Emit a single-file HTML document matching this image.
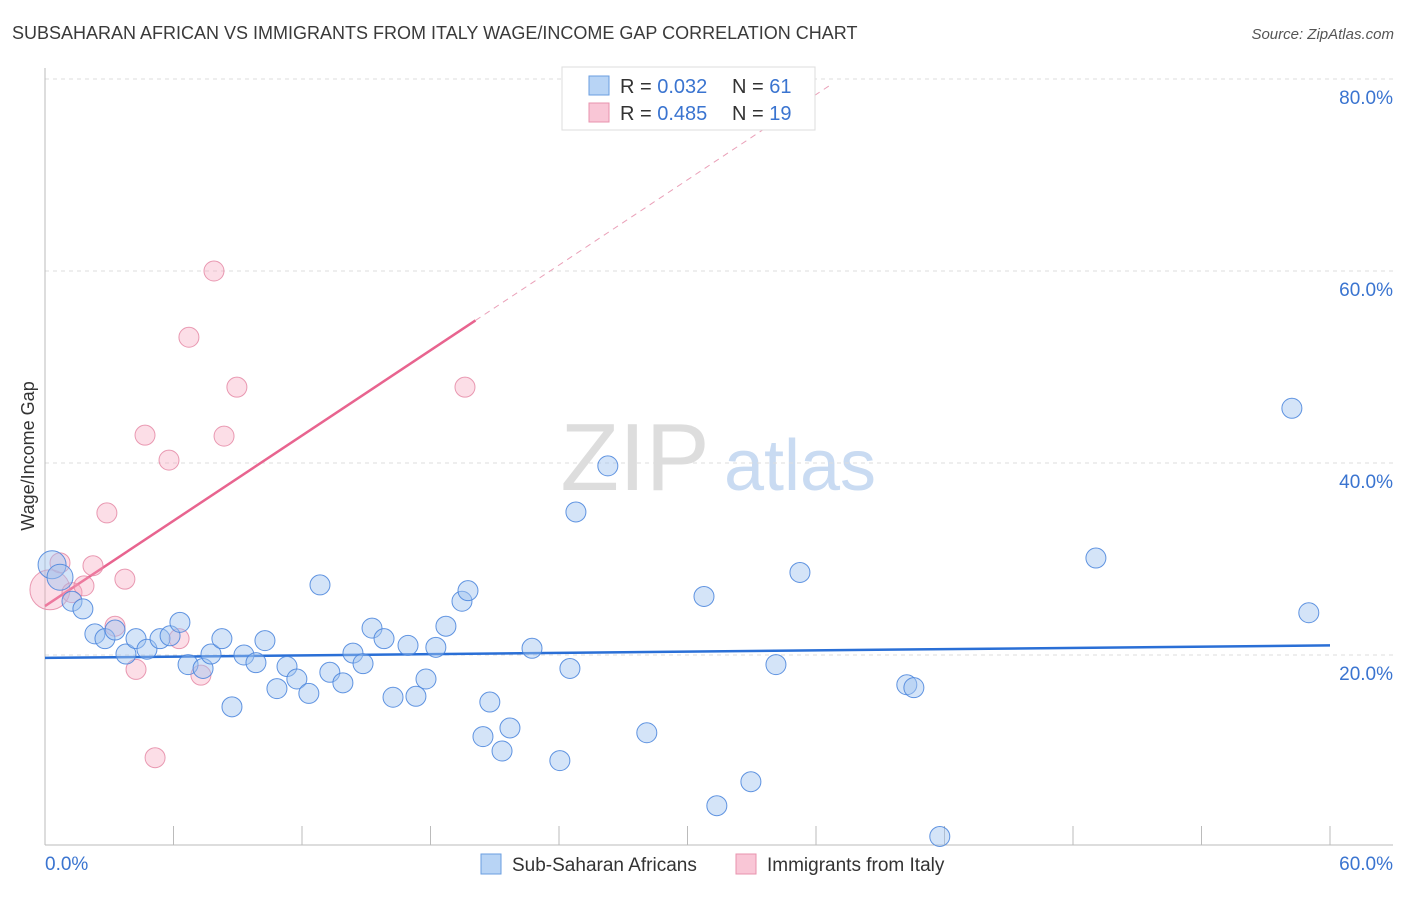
<!DOCTYPE html>
<html><head><meta charset="utf-8"><style>
body{margin:0;background:#fff;font-family:"Liberation Sans",sans-serif}
svg text{font-family:"Liberation Sans",sans-serif}
</style></head><body>
<svg id="chart" width="1406" height="892" xmlns="http://www.w3.org/2000/svg">
<text x="12" y="39" font-size="18" fill="#3a3a3a">SUBSAHARAN AFRICAN VS IMMIGRANTS FROM ITALY WAGE/INCOME GAP CORRELATION CHART</text>
<text x="1394" y="39" font-size="15" fill="#555" font-style="italic" text-anchor="end">Source: ZipAtlas.com</text>
<text x="34" y="456" font-size="18" fill="#333" transform="rotate(-90 34 456)" text-anchor="middle">Wage/Income Gap</text>
<g><text x="635" y="490" font-size="96" fill="#ddd" font-family="Liberation Serif" text-anchor="middle">ZIP</text><text x="800" y="490" font-size="72" fill="#c9dbf2" text-anchor="middle">atlas</text></g>
<g id="grid"></g><g id="axes"></g><g id="lines"></g><g id="points"></g>
<g>
<rect x="562" y="67" width="253" height="63" fill="#fff" stroke="#ddd"/>
<rect x="589" y="76" width="20" height="19" fill="#b8d4f5" stroke="#6a9ee0"/>
<rect x="589" y="103" width="20" height="19" fill="#f9c6d6" stroke="#e893ae"/>
<text x="620" y="93" font-size="20" fill="#333">R = <tspan fill="#3a74d0">0.032</tspan></text>
<text x="732" y="93" font-size="20" fill="#333">N = <tspan fill="#3a74d0">61</tspan></text>
<text x="620" y="120" font-size="20" fill="#333">R = <tspan fill="#3a74d0">0.485</tspan></text>
<text x="732" y="120" font-size="20" fill="#333">N = <tspan fill="#3a74d0">19</tspan></text>
</g>
<g>
<rect x="481" y="854" width="20" height="20" fill="#b8d4f5" stroke="#6a9ee0"/>
<text x="512" y="871" font-size="19" fill="#333">Sub-Saharan Africans</text>
<rect x="736" y="854" width="20" height="20" fill="#f9c6d6" stroke="#e893ae"/>
<text x="767" y="871" font-size="19" fill="#333">Immigrants from Italy</text>
</g>
</svg>
<script>
const xTickLabels=["0.0%","60.0%"];
const yTicks=[20,40,60,80];
const yTickLabels=["20.0%","40.0%","60.0%","80.0%"];
const blueX=[0.33,0.7,1.26,1.77,2.33,2.8,3.27,3.78,4.25,4.76,5.37,5.84,6.3,6.68,7.38,7.75,8.26,8.73,9.29,9.85,10.27,10.83,11.3,11.76,12.32,12.84,13.3,13.91,14.38,14.85,15.27,15.83,16.25,16.95,17.32,17.79,18.25,18.72,19.47,19.75,20.45,20.77,21.34,21.71,22.74,24.04,24.51,24.79,26.28,28.1,30.77,31.37,32.96,34.13,35.25,40.24,40.57,41.78,49.07,58.22,59.01];
const blueY=[29.4,28.1,25.6,24.8,22.2,21.7,22.6,20.1,21.7,20.6,21.7,22.0,23.4,19.0,18.6,20.1,21.7,14.6,20.0,19.2,21.5,16.5,18.8,17.5,16.0,27.3,18.2,17.1,20.2,19.1,22.8,21.7,15.6,21.0,15.7,17.5,20.8,23.0,25.6,26.7,11.5,15.1,10.0,12.4,20.7,9.0,18.6,34.9,39.7,11.9,26.1,4.3,6.8,19.0,28.6,16.9,16.6,1.1,30.1,45.7,24.4];
const blueR=[14,13,10,10,10,10,10,10,10,10,10,10,10,10,10,10,10,10,10,10,10,10,10,10,10,10,10,10,10,10,10,10,10,10,10,10,10,10,10,10,10,10,10,10,10,10,10,10,10,10,10,10,10,10,10,10,10,10,10,10,10];
const pinkX=[0.23,0.7,1.26,1.82,2.24,2.89,3.27,3.73,4.25,4.67,5.14,5.79,6.26,6.72,7.28,7.89,8.36,8.96,19.61];
const pinkY=[26.8,29.6,26.5,27.2,29.3,34.8,23.0,27.9,18.5,42.9,9.3,40.3,21.7,53.1,17.9,60.0,42.8,47.9,47.9];
const pinkR=[20,10,10,10,10,10,10,10,10,10,10,10,10,10,10,10,10,10,10];
const blueTrend=[19.7,21.0];
const pinkTrend=[25.1,1.48];
const NS="http://www.w3.org/2000/svg";
const X0=45,X1=1330,Y0=847,PXPERY=9.6;
const sx=v=>X0+v/60*(X1-X0);
const sy=v=>Y0-v*PXPERY;
function mk(tag,attrs,parent){const e=document.createElementNS(NS,tag);for(const k in attrs)e.setAttribute(k,attrs[k]);document.getElementById(parent).appendChild(e);return e;}
yTicks.forEach((t,i)=>{
 const g=mk("line",{x1:45,x2:1393,y1:sy(t),y2:sy(t),stroke:"#ddd","stroke-dasharray":"4,4"},"grid");
 
 
 const l=mk("text",{x:1393,y:sy(t)+25,"font-size":19,fill:"#3a74d0","text-anchor":"end"},"grid");
 l.textContent=yTickLabels[i];
 
 
});
const ax=mk("line",{x1:45,x2:45,y1:68,y2:845,stroke:"#bbb"},"axes");


const bx=mk("line",{x1:45,x2:1393,y1:845,y2:845,stroke:"#bbb"},"axes");


for(let i=0;i<=10;i++){
 const t=mk("line",{x1:sx(i*6),x2:sx(i*6),y1:826,y2:845,stroke:"#bbb"},"axes");
 
 
}
const xl0=mk("text",{x:45,y:870,"font-size":19,fill:"#3a74d0"},"axes");xl0.textContent=xTickLabels[0];


const xl1=mk("text",{x:1393,y:870,"font-size":19,fill:"#3a74d0","text-anchor":"end"},"axes");xl1.textContent=xTickLabels[1];


pinkX.forEach((x,i)=>{
 const c=mk("circle",{cx:sx(x),cy:sy(pinkY[i]),r:pinkR[i],fill:"rgba(245,160,185,0.35)",stroke:"rgba(228,130,160,0.8)","stroke-width":1},"points");
 
 
});
blueX.forEach((x,i)=>{
 const c=mk("circle",{cx:sx(x),cy:sy(blueY[i]),r:blueR[i],fill:"rgba(160,195,240,0.45)",stroke:"rgba(70,130,220,0.85)","stroke-width":1},"points");
 
 
});
const bl=mk("line",{x1:sx(0),y1:sy(blueTrend[0]),x2:sx(60),y2:sy(blueTrend[1]),stroke:"#2a6fd6","stroke-width":2.5},"lines");


const pEnd=20.1,pDash=36.6;
const pl=mk("line",{x1:sx(0),y1:sy(pinkTrend[0]),x2:sx(pEnd),y2:sy(pinkTrend[0]+pinkTrend[1]*pEnd),stroke:"#e8648f","stroke-width":2.5},"lines");


const pd=mk("line",{x1:sx(pEnd),y1:sy(pinkTrend[0]+pinkTrend[1]*pEnd),x2:sx(pDash),y2:sy(pinkTrend[0]+pinkTrend[1]*pDash),stroke:"#eaa0b8","stroke-width":1,"stroke-dasharray":"6,5"},"lines");


</script>
</body></html>
